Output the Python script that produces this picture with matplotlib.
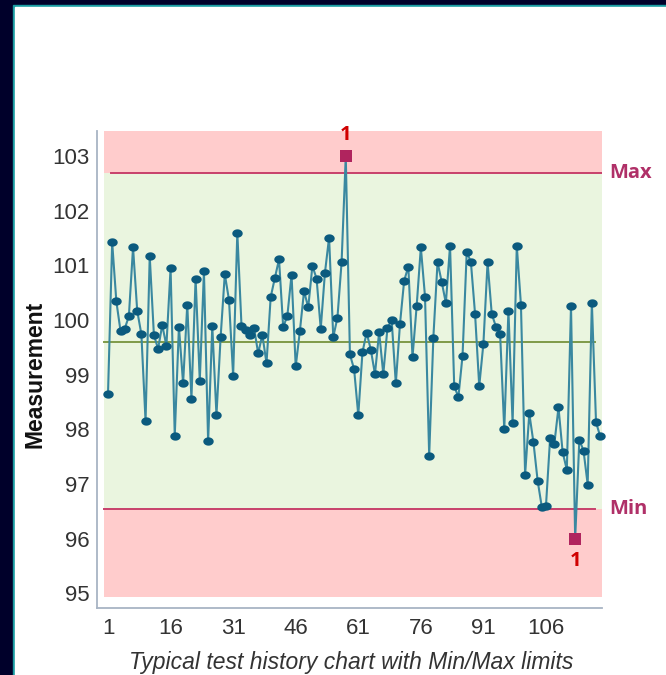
import numpy as np

import matplotlib
matplotlib.use("Agg")
import matplotlib.pyplot as plt
from matplotlib.patches import Rectangle


# ---------------------------------------------------
# Data
# ---------------------------------------------------

measurements = [
    98.65, 101.42, 100.34, 99.80, 99.84, 100.07, 101.33, 100.17, 99.74, 98.15,
    101.17, 99.73, 99.47, 99.91, 99.53, 100.95, 97.88, 99.88, 98.84, 100.28,
    98.56, 100.76, 98.89, 100.89, 97.78, 99.89, 98.26, 99.69, 100.84, 100.37,
    98.98, 101.60, 99.90, 99.81, 99.73, 99.86, 99.39, 99.73, 99.21, 100.42,
    100.77, 101.11, 99.87, 100.08, 100.83, 99.15, 99.80, 100.53, 100.23, 100.99,
    100.76, 99.84, 100.86, 101.51, 99.69, 100.04, 101.06, 103.00, 99.37, 99.10,
    98.26, 99.41, 99.77, 99.46, 99.01, 99.78, 99.01, 99.86, 100.00, 98.84,
    99.93, 100.72, 100.98, 99.32, 100.26, 101.33, 100.43, 97.52, 99.68, 101.06,
    100.70, 100.31, 101.36, 98.79, 98.59, 99.35, 101.25, 101.06, 100.11, 98.79,
    99.57, 101.06, 100.11, 99.88, 99.75, 98.00, 100.17, 98.11, 101.36, 100.28,
    97.17, 98.29, 97.76, 97.06, 96.58, 96.60, 97.85, 97.73, 98.40, 97.58,
    97.26, 100.26, 96.00, 97.81, 97.61, 96.99, 100.32, 98.13, 97.87,
]

MAX_LIMIT = 102.70
MIN_LIMIT = 96.54
CENTER = 99.60

x_ticks = [1, 16, 31, 46, 61, 76, 91, 106]
y_ticks = [95, 96, 97, 98, 99, 100, 101, 102, 103]

CAPTION = "Typical test history chart with Min/Max limits"

# ---------------------------------------------------
# Colours
# ---------------------------------------------------

NAVY = "#00002a"
TEAL = "#1a9ca2"
PINK = "#ffcccc"
GREEN = "#eaf5df"
LIMIT_RED = "#c8416b"
OLIVE = "#7f9a48"
LINE_BLUE = "#3a88a0"
DOT_BLUE = "#0b5a7e"
SQUARE = "#b0245e"
LABEL_MAGENTA = "#b03068"

W, H = 666, 675

x = np.arange(1, len(measurements) + 1)
y = np.array(measurements)
out = (y > MAX_LIMIT) | (y < MIN_LIMIT)

fig = plt.figure(figsize=(W / 100, H / 100), dpi=100, facecolor=NAVY)

# white panel with teal edge
fig.patches.append(Rectangle((13 / W, 0), 1, (H - 5) / H,
                             transform=fig.transFigure, color=TEAL, zorder=-2))
fig.patches.append(Rectangle((15 / W, 0), 1, (H - 7) / H,
                             transform=fig.transFigure, color="white", zorder=-1))

ax = fig.add_axes([96.5 / W, (H - 608) / H, 505.2 / W, 477 / H])
ax.set_facecolor("none")

XMIN, XMAX = -1.76, 119.36
ax.set_xlim(XMIN, XMAX)
ax.set_ylim(94.73, 103.46)

# limit bands
ax.fill_between([0, XMAX], MAX_LIMIT, 103.46, color=PINK, lw=0, zorder=0)
ax.fill_between([0, XMAX], 94.93, MIN_LIMIT, color=PINK, lw=0, zorder=0)
ax.fill_between([0, XMAX], MIN_LIMIT, MAX_LIMIT, color=GREEN, lw=0, zorder=0)

ax.plot([1.7, XMAX], [MAX_LIMIT, MAX_LIMIT], color=LIMIT_RED, lw=1.4, zorder=1)
ax.plot([0, 117.8], [MIN_LIMIT, MIN_LIMIT], color=LIMIT_RED, lw=1.4, zorder=1)
ax.plot([0, 117.8], [CENTER, CENTER], color=OLIVE, lw=1.4, zorder=1)

ax.text(XMAX + 1.7, MAX_LIMIT, "Max", color=LABEL_MAGENTA, fontsize=14.5,
        fontweight="bold", family="Open Sans", va="center", ha="left",
        clip_on=False)
ax.text(XMAX + 1.7, MIN_LIMIT, "Min", color=LABEL_MAGENTA, fontsize=14.5,
        fontweight="bold", family="Open Sans", va="center", ha="left",
        clip_on=False)

# ---------------------------------------------------
# Measurement series
# ---------------------------------------------------

t = np.linspace(0, 2 * np.pi, 40)
ellipse = np.column_stack([1.25 * np.cos(t), np.sin(t)])

ax.plot(x, y, color=LINE_BLUE, lw=1.5, zorder=2)
ax.plot(x[~out], y[~out], ls="none", marker=ellipse, markersize=7.5,
        color=DOT_BLUE, markeredgewidth=0, zorder=3, clip_on=False)
ax.plot(x[out], y[out], ls="none", marker="s", markersize=8.5,
        color=SQUARE, markeredgewidth=0, zorder=4, clip_on=False)

for xi, yi in zip(x[out], y[out]):
    above = yi > MAX_LIMIT
    ax.annotate("1", (xi, yi), xytext=(0, 15 if above else -16),
                textcoords="offset points", ha="center", va="center",
                color="#d00000", fontsize=14.5, fontweight="bold",
                family="Open Sans", annotation_clip=False, zorder=5)

# ---------------------------------------------------
# Axes styling
# ---------------------------------------------------

ax.set_xticks(x_ticks)
ax.set_yticks(y_ticks)
ax.tick_params(length=0, labelsize=16, labelcolor="#333333")
ax.tick_params(axis="y", pad=5)
ax.tick_params(axis="x", pad=7.5)
for lab in ax.get_xticklabels() + ax.get_yticklabels():
    lab.set_family("Liberation Sans")

for side in ["top", "right"]:
    ax.spines[side].set_visible(False)
for side in ["left", "bottom"]:
    ax.spines[side].set_color("#a8b4c4")
    ax.spines[side].set_linewidth(1.3)

fig.text(34.7 / W, (H - 374) / H, "Measurement", rotation=90, ha="center",
         va="center", fontsize=16.5, fontweight="bold", family="Liberation Sans",
         color="#111111")

fig.text(351 / W, (H - 669.3) / H, CAPTION, ha="center", va="baseline",
         fontsize=16.5, style="italic", family="Liberation Sans",
         color="#333333")

fig.savefig("out.png", dpi=100, facecolor=fig.get_facecolor())
